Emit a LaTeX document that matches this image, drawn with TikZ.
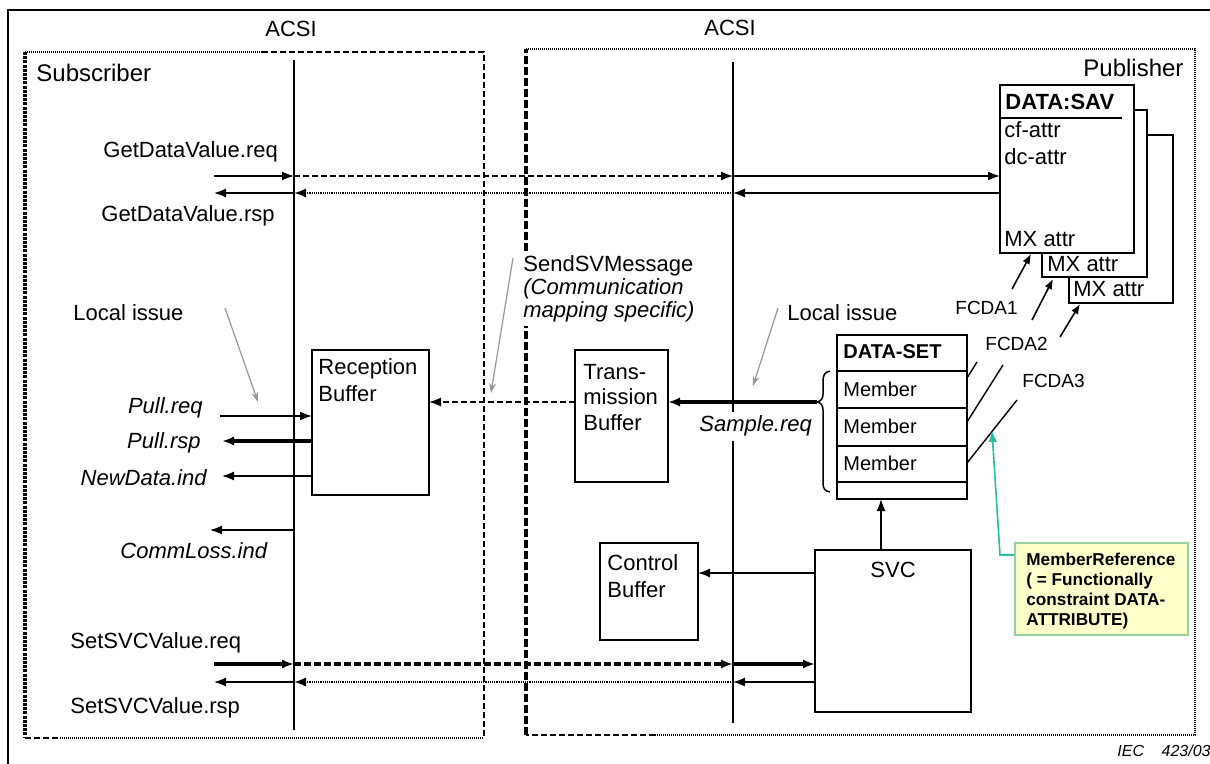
\documentclass[tikz,border=0pt]{standalone}
\usepackage{fontspec}
\setmainfont{Liberation Sans}
\usetikzlibrary{arrows.meta,fit}

\definecolor{refgreen}{RGB}{40,190,160}
\definecolor{notefill}{RGB}{255,255,204}
\definecolor{noteline}{RGB}{150,210,160}
\definecolor{hintgray}{RGB}{150,150,150}

\begin{document}
\begin{tikzpicture}[x=0.5pt,y=-0.5pt,
  lbl/.style={font=\fontsize{11}{13}\selectfont, inner sep=0pt, anchor=base west},
  ilbl/.style={font=\fontsize{11}{13}\selectfont\itshape, inner sep=0pt, anchor=base west},
  big/.style={font=\fontsize{12}{14}\selectfont, inner sep=0pt, anchor=base west},
  blbl/.style={font=\fontsize{11}{13}\selectfont\bfseries, inner sep=0pt, anchor=base west},
  dslbl/.style={font=\fontsize{10}{12}\selectfont, inner sep=0pt, anchor=base west},
  fcda/.style={font=\fontsize{9.5}{11}\selectfont, inner sep=0pt, anchor=base west},
  notelbl/.style={font=\fontsize{8.6}{10}\selectfont\bfseries, inner sep=0pt, anchor=base west},
  box/.style={draw, line width=0.85pt, inner sep=0pt, outer sep=0pt},
  arr/.style={line width=0.8pt, -{Latex[length=6pt,width=4.6pt]}},
  smallarr/.style={line width=0.8pt, -{Latex[length=5pt,width=4pt]}},
  heavy/.style={line width=1.6pt},
  dashseg/.style={dash pattern=on 3pt off 1.5pt},
  dotseg/.style={line width=1pt, dash pattern=on 0.6pt off 0.5pt},
  hint/.style={draw=hintgray, line width=0.6pt, -{Stealth[length=5pt,width=3.4pt]}},
  thinline/.style={line width=0.7pt},
  frameDash/.style={line width=0.75pt, dash pattern=on 3pt off 1.5pt},
  frameDot/.style={line width=0.75pt, dash pattern=on 0.5pt off 0.5pt},
  subEdge/.style={line width=1.6pt, dash pattern=on 1.5pt off 0.6pt},
  pubEdge/.style={line width=1.6pt, dash pattern=on 4pt off 1.5pt}
]
\useasboundingbox (0,0) rectangle (1210,764);
\fill[white] (0,0) rectangle (1210,764);

% outer frame
\draw[line width=1pt] (8,764) -- (8,10) -- (1210,10);

% subscriber side frame
\draw[subEdge] (25,52) -- (25,738);
\draw[frameDot] (25,52) -- (262,52);
\draw[frameDash] (262,52) -- (484,52) -- (484,738);
\draw[frameDash] (25,738) -- (60,738);
\draw[frameDot] (60,738) -- (484,738);

% publisher side frame
\draw[pubEdge] (526,735) -- (526,49);
\draw[frameDot] (526,49) -- (1195,49) -- (1195,735) -- (655,735);
\draw[frameDash] (655,735) -- (526,735);

% ACSI boundaries
\coordinate (aL1) at (294,60);
\coordinate (aL2) at (294,730);
\coordinate (aR1) at (733,62);
\coordinate (aR2) at (733,723);
\draw[line width=0.8pt] (aL1) -- (aL2);
\draw[line width=0.8pt] (aR1) -- (aR2);

\node[lbl] (acsiL) at (265,37) {ACSI};
\node[lbl] (acsiR) at (704,36) {ACSI};
\node[big] (sub) at (36,82) {Subscriber};
\node[big] (pub) at (1083,77) {Publisher};

% DATA:SAV instances (stacked)
\node[box, fill=white, fit={(1069,135)(1173,303)}] (sav3) {};
\node[box, fill=white, fit={(1042,110)(1147,277)}] (sav2) {};
\node[box, fill=white, fit={(1000,85)(1134,253)}] (sav) {};
\node[blbl] (savt) at (1005,110) {DATA:SAV};
\draw[line width=0.8pt] (1000,118) -- (1122,118);
\node[lbl] (cf) at (1004,138) {cf-attr};
\node[lbl] (dc) at (1004,165) {dc-attr};
\node[lbl] (mx1) at (1004,247) {MX attr};
\node[lbl] (mx2) at (1047,272) {MX attr};
\node[lbl] (mx3) at (1073,297) {MX attr};

% buffers
\node[box, fit={(312,350)(429,495)}] (rb) {};
\node[lbl] at (318,375) {Reception};
\node[lbl] at (318,402) {Buffer};

\node[box, fit={(575,350)(668,482)}] (tb) {};
\node[lbl] at (583,380) {Trans-};
\node[lbl] at (583,405) {mission};
\node[lbl] at (583,430) {Buffer};

\node[box, fit={(600,543)(698,640)}] (cb) {};
\node[lbl] at (607,570) {Control};
\node[lbl] at (607,597) {Buffer};

\node[box, fit={(815,550)(971,712)}] (svc) {};
\node[lbl] at (870,577) {SVC};

% data set
\node[box, fit={(837,335)(967,371)}] (dsh) {};
\node[box, fit={(837,371)(967,408)}] (m1) {};
\node[box, fit={(837,408)(967,446)}] (m2) {};
\node[box, fit={(837,446)(967,482)}] (m3) {};
\node[box, fit={(837,482)(967,499)}] (dst) {};
\node[font=\fontsize{10}{12}\selectfont\bfseries, inner sep=0pt, anchor=base west] at (843,359) {DATA-SET};
\node[dslbl] at (843,397) {Member};
\node[dslbl] at (843,434) {Member};
\node[dslbl] at (843,471) {Member};

% brace over the members
\draw[line width=0.75pt] (830,371) .. controls (824,372) and (823,376) .. (823,382) -- (823,394)
  .. controls (823,399) and (821,401) .. (817,402)
  .. controls (821,403) and (823,405) .. (823,410) -- (823,483)
  .. controls (823,489) and (825,491) .. (830,492);
\coordinate (btip) at (817,402);

% GetDataValue
\node[lbl] (gdq) at (103,158) {GetDataValue.req};
\node[lbl] (gdr) at (101,222) {GetDataValue.rsp};
\coordinate (gq0) at (214,176);
\coordinate (gq1) at (294,176);
\coordinate (gq2) at (733,176);
\coordinate (gr0) at (214,193);
\coordinate (gr1) at (294,193);
\coordinate (gr2) at (733,193);
\draw[arr] (gq0) -- (gq1);
\draw[arr, dashseg] (gq1) -- (gq2);
\draw[arr] (gq2) -- (sav.west |- gq2);
\draw[arr] (sav.west |- gr2) -- (gr2);
\draw[arr, dotseg] (gr2) -- (gr1);
\draw[arr] (gr1) -- (gr0);

% reception buffer primitives
\node[lbl] (li1) at (73,321) {Local issue};
\coordinate (li1a) at (225,308);
\coordinate (li1b) at (258,402);
\draw[hint] (li1a) -- (li1b);

\node[ilbl, anchor=base east] (pq) at (203,414) {Pull.req};
\node[ilbl, anchor=base east] (pr) at (201,449) {Pull.rsp};
\node[ilbl, anchor=base east] (nd) at (207,486) {NewData.ind};
\coordinate (pq0) at (220,416);
\coordinate (pr0) at (222,441);
\coordinate (nd0) at (222,476);
\draw[arr] (pq0) -- (rb.west |- pq0);
\draw[arr, heavy] (rb.west |- pr0) -- (pr0);
\draw[arr] (rb.west |- nd0) -- (nd0);

\node[ilbl] (cl) at (120,558) {CommLoss.ind};
\coordinate (cl1) at (294,530);
\coordinate (cl0) at (210,530);
\draw[arr] (cl1) -- (cl0);

% SendSVMessage
\coordinate (sv) at (575,402);
\draw[arr, dashseg] (tb.west |- sv) -- (rb.east |- sv);
\node[fill=white, inner sep=2pt, anchor=north west, align=left,
      font=\fontsize{11}{11.5}\selectfont] (svm) at (519,251)
  {SendSVMessage\\\textit{(Communication}\\\textit{mapping specific)}};
\coordinate (sva) at (513,258);
\coordinate (svb) at (491,393);
\draw[hint] (sva) -- (svb);

% Sample.req
\draw[arr, heavy] (btip) -- (tb.east |- btip);
\node[ilbl, fill=white, inner sep=2pt] (sr) at (695,432) {Sample.req};
\node[lbl] (li2) at (787,321) {Local issue};
\coordinate (li2a) at (778,308);
\coordinate (li2b) at (753,386);
\draw[hint] (li2a) -- (li2b);

% control path
\coordinate (cbl) at (700,573);
\draw[arr] (svc.west |- cbl) -- (cb.east |- cbl);
\coordinate (svup) at (881,550);
\draw[arr] (svup) -- (dst.south -| svup);

% SetSVCValue
\node[lbl] (ssq) at (70,648) {SetSVCValue.req};
\node[lbl] (ssr) at (70,713) {SetSVCValue.rsp};
\coordinate (sq0) at (214,664);
\coordinate (sq1) at (294,664);
\coordinate (sq2) at (733,664);
\coordinate (sr0) at (214,682);
\coordinate (sr1) at (294,682);
\coordinate (sr2) at (733,682);
\draw[arr, heavy] (sq0) -- (sq1);
\draw[arr, heavy, dash pattern=on 3.5pt off 1.5pt] (sq1) -- (sq2);
\draw[arr, heavy] (sq2) -- (svc.west |- sq2);
\draw[arr] (svc.west |- sr2) -- (sr2);
\draw[arr, dotseg] (sr2) -- (sr1);
\draw[arr] (sr1) -- (sr0);

% functionally constrained data attributes
\node[fcda] (fc1) at (955,315) {FCDA1};
\node[fcda] (fc2) at (985,351) {FCDA2};
\node[fcda] (fc3) at (1022,388) {FCDA3};
\coordinate (m1o) at (967,378);
\coordinate (m2o) at (967,422);
\coordinate (m3o) at (967,463);
\coordinate (m1e) at (977,362);
\coordinate (m2e) at (1003,365);
\coordinate (m3e) at (1017,400);
\draw[thinline] (m1o) -- (m1e);
\draw[thinline] (m2o) -- (m2e);
\draw[thinline] (m3o) -- (m3e);
\coordinate (f1s) at (1012,289);
\coordinate (f1t) at (1031,254);
\coordinate (f2s) at (1032,320);
\coordinate (f2t) at (1053,279);
\coordinate (f3s) at (1060,337);
\coordinate (f3t) at (1080,304);
\draw[smallarr] (f1s) -- (f1t);
\draw[smallarr] (f2s) -- (f2t);
\draw[smallarr] (f3s) -- (f3t);

% member reference note
\node[draw=noteline, fill=notefill, line width=1pt, inner sep=0pt, fit={(1015,543)(1188,635)}] (mr) {};
\node[notelbl] at (1026,565) {MemberReference};
\node[notelbl] at (1026,585) {( = Functionally};
\node[notelbl] at (1026,605) {constraint DATA-};
\node[notelbl] at (1026,625) {ATTRIBUTE)};
\coordinate (mrk) at (1000,555);
\coordinate (mrt) at (992,431);
\draw[refgreen, line width=0.8pt, -{Latex[length=5.5pt,width=4.4pt]}] (mr.west |- mrk) -- (mrk) -- (mrt);

% figure tag
\node[font=\fontsize{8}{9}\selectfont\itshape, inner sep=0pt, anchor=base west] (tag) at (1117,756) {IEC\hspace{1.1em}423/03};
\end{tikzpicture}
\end{document}
